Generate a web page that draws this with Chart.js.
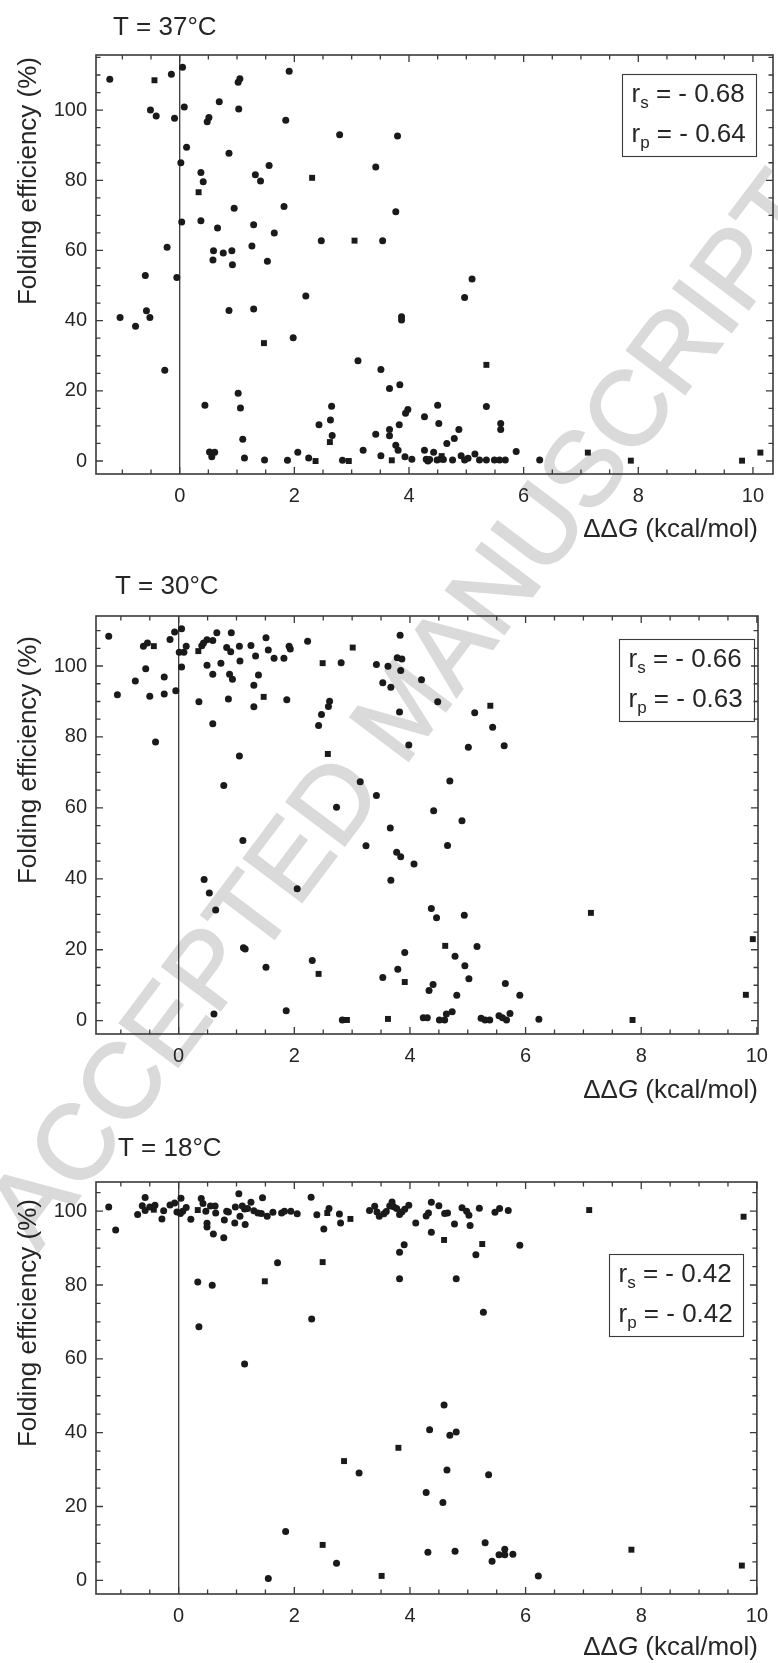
<!DOCTYPE html>
<html>
<head>
<meta charset="utf-8">
<title>Folding efficiency vs ΔΔG</title>
<script src="https://cdn.jsdelivr.net/npm/chart.js@4.4.1/dist/chart.umd.min.js"></script>
<style>
  html, body { margin: 0; padding: 0; background: #fff; }
  #page { position: relative; width: 778px; height: 1663px; overflow: hidden; }
  #stamp {
    position: absolute; left: 402px; top: 708px;
    transform: translate(-50%, -50%) rotate(-53deg);
    font: 106px 'Liberation Sans', Arial, sans-serif;
    color: #dadada; -webkit-text-stroke: 2px #dadada;
    white-space: nowrap; line-height: 1;
  }
  canvas { position: absolute; left: 0; }
</style>
</head>
<body>
<div id="page">
  <div id="stamp">ACCEPTED MANUSCRIPT</div>
  <canvas id="c37" width="778" height="556" style="top:0px"></canvas>
  <canvas id="c30" width="778" height="554" style="top:556px"></canvas>
  <canvas id="c18" width="778" height="553" style="top:1110px"></canvas>
</div>
<script>
// ---- data: [ΔΔG (kcal/mol), folding efficiency (%)] ----
const xTickValues = [0, 2, 4, 6, 8, 10];
const yTickValues = [0, 20, 40, 60, 80, 100];
const temperatures = [37, 30, 18];
const spearman = [-0.68, -0.66, -0.42];
const pearson = [-0.64, -0.63, -0.42];

const circles37 = [
  [-1.22,108.8],[-0.145,110.2],[0.05,112.2],[-0.51,100.0],[-0.41,98.3],[-0.09,97.7],[0.08,100.9],
  [0.12,89.4],[0.02,85.0],[0.035,68.1],[0.37,82.2],[0.41,79.6],[0.37,68.5],[0.48,96.7],[0.51,97.9],
  [0.69,102.4],[1.02,107.9],[1.05,108.9],[1.03,100.3],[0.86,87.7],[0.66,66.4],[0.95,72.0],[0.59,59.9],
  [0.58,57.3],[0.76,59.3],[0.91,59.9],[0.92,55.9],[1.26,61.3],[1.29,67.3],[1.32,81.6],[1.41,79.8],
  [1.56,84.2],[1.53,56.9],[1.65,65.0],[1.82,72.5],[1.85,97.1],[1.91,111.1],[2.47,62.8],[2.79,93.0],
  [3.42,83.8],[3.54,62.8],[3.77,71.0],[3.80,92.6],[-0.22,60.9],[-0.60,52.9],[-0.05,52.3],[5.10,51.9],
  [-1.04,40.9],[-0.77,38.4],[-0.58,42.8],[-0.52,40.9],[-0.26,25.9],[0.86,42.9],[1.29,43.3],[2.20,47.0],
  [1.98,35.1],[3.11,28.6],[3.51,26.1],[3.66,20.7],[3.84,21.7],[3.87,41.1],[3.87,40.2],[0.44,15.9],
  [1.02,19.3],[1.06,15.1],[1.10,6.2],[0.52,2.6],[0.61,2.5],[0.56,1.2],[1.13,0.85],[1.48,0.3],[1.88,0.2],
  [2.06,2.5],[2.25,0.85],[2.43,10.3],[2.63,11.7],[2.65,15.6],[2.66,7.3],[2.84,0.2],[3.20,3.1],[3.42,7.6],
  [3.51,1.5],[3.66,9.0],[3.66,7.2],[3.77,4.5],[3.81,3.1],[3.83,10.3],
  [3.93,1.2],[3.94,13.6],[3.98,14.7],[4.05,0.5],[4.27,12.6],[4.27,3.1],[4.30,0.5],[4.33,0.0],[4.36,0.4],
  [4.43,2.5],[4.50,15.9],[4.52,10.7],[4.49,0.3],[4.55,0.6],[4.60,0.4],[4.66,5.0],[4.76,0.3],[4.79,6.4],
  [4.87,9.0],[4.91,1.5],[4.97,0.3],[5.03,0.8],[4.97,46.6],[5.15,2.0],[5.23,0.3],[5.35,15.5],[5.35,0.3],
  [5.49,0.3],[5.58,0.3],[5.68,0.3],[5.60,10.7],[5.60,9.0],[5.87,2.7],[6.28,0.3]
];
const squares37 = [
  [-0.44,108.5],[0.33,76.6],[2.31,80.7],[3.05,62.8],[1.47,33.6],[2.37,0.0],[2.62,5.4],[2.95,0.0],
  [3.70,0.2],[4.57,1.4],[5.35,27.4],[7.12,2.4],[7.87,0.1],[9.81,0.1],[10.13,2.4]
];

const circles30 = [
  [-1.21,108.4],[-1.06,91.9],[-0.75,95.8],[-0.61,105.6],[-0.54,106.5],[-0.57,99.2],[-0.50,91.5],
  [-0.40,78.6],[-0.25,96.9],[-0.25,92.1],[-0.15,107.5],[-0.07,109.6],[-0.05,93.0],[0.05,110.5],
  [0.01,103.9],[0.09,103.9],[0.05,99.7],[0.13,105.6],[0.35,89.9],[0.40,105.7],[0.43,106.5],[0.49,107.4],
  [0.59,107.2],[0.66,109.4],[0.49,100.2],[0.59,97.7],[0.59,83.7],[0.73,100.8],[0.78,66.3],[0.83,105.2],
  [0.90,104.0],[0.86,90.7],[0.88,97.7],[0.93,96.3],[0.91,109.4],[1.05,105.6],[1.06,101.4],[1.05,74.6],
  [1.11,50.8],[1.25,105.8],[1.33,102.8],[1.30,94.6],[1.30,88.5],[1.38,97.5],[1.51,108.0],[1.55,104.5],
  [1.65,102.2],[1.82,102.2],[1.87,90.5],[1.91,105.6],[1.93,104.8],[2.23,107.0],[2.42,83.2],[2.47,86.3],
  [2.61,90.1],[2.59,88.6],[2.73,60.2],[2.81,100.9],[3.14,67.4],[3.24,49.3],[3.42,63.5],[3.42,100.4],
  [3.53,95.3],[3.67,94.0],[3.62,99.9],[3.66,54.3],[3.78,102.3],[3.83,108.7],[3.86,102.0],[3.84,98.7],
  [4.20,96.1],[3.82,87.0],[4.48,89.9],[5.12,86.8],[5.43,82.7],[5.01,77.1],[5.63,77.5],[3.98,77.7],
  [4.69,67.6],[4.41,59.2],[4.90,56.4],[4.65,49.4],[3.77,47.5],[3.84,46.2],[4.07,44.2],[3.67,39.6],
  [0.44,39.8],[0.53,36.0],[0.64,31.2],[2.05,37.2],[1.12,20.6],[1.15,20.2],[1.51,15.1],[2.31,17.0],
  [3.53,12.2],[3.79,14.5],[0.61,1.9],[1.86,2.8],[2.83,0.2],[4.37,31.6],[4.46,29.0],[4.94,29.7],
  [5.16,20.9],[3.91,19.2],[4.78,18.2],[4.95,15.5],[5.02,11.8],[4.40,10.2],[4.33,8.5],[5.65,10.5],
  [4.81,7.2],[5.90,7.2],[4.23,0.85],[4.30,0.85],[4.51,0.2],[4.60,0.2],[4.63,1.9],[4.73,2.5],[5.23,0.7],
  [5.30,0.2],[5.38,0.2],[5.54,1.4],[5.60,0.85],[5.67,0.2],[5.73,2.0],[6.23,0.4]
];
const squares30 = [
  [-0.43,105.6],[0.34,104.2],[1.47,91.3],[2.49,100.8],[2.58,75.2],[3.01,105.2],[5.39,88.8],[2.42,13.2],
  [2.91,0.2],[3.62,0.5],[7.13,30.4],[9.93,23.0],[4.61,21.1],[3.91,10.9],[9.81,7.3],[7.85,0.2]
];

const circles18 = [
  [-1.21,101.1],[-1.09,94.9],[-0.71,99.1],[-0.58,103.7],[-0.63,101.5],[-0.58,100.2],[-0.50,101.1],
  [-0.41,101.6],[-0.29,97.9],[-0.26,100.1],[-0.15,101.7],[-0.07,102.2],[-0.03,99.8],[0.04,103.5],
  [0.03,99.4],[0.07,100.0],[0.13,101.0],[0.21,97.8],[0.39,103.4],[0.42,102.1],[0.47,100.0],[0.49,96.7],
  [0.49,95.7],[0.55,101.4],[0.63,101.4],[0.60,93.8],[0.64,99.5],[0.78,92.8],[0.79,97.6],[0.83,100.0],
  [0.86,99.8],[0.97,96.8],[0.98,101.1],[1.04,104.7],[1.06,98.6],[1.10,101.4],[1.14,100.6],[1.19,100.7],
  [1.15,96.4],[1.25,102.4],[1.30,100.1],[1.37,99.5],[1.43,99.4],[1.45,103.6],[1.53,98.6],[1.63,99.7],
  [1.78,99.5],[1.83,100.0],[1.94,100.0],[2.05,99.3],[2.29,103.8],[2.39,99.0],[2.51,95.2],[2.60,100.7],
  [2.78,99.2],[2.80,96.8],[0.33,80.8],[0.58,79.9],[0.35,68.7],[1.14,58.6],[1.71,86.0],[2.30,70.8],
  [3.30,100.2],[3.39,101.3],[3.43,99.8],[3.47,98.6],[3.55,99.3],[3.59,99.9],[3.65,101.4],[3.69,102.5],
  [3.72,101.2],[3.77,100.7],[3.82,99.1],[3.86,99.8],[3.91,100.5],[3.98,101.6],[4.10,96.8],[4.28,98.7],
  [4.32,99.5],[4.37,102.4],[4.37,94.3],[4.50,101.5],[4.60,99.4],[4.65,99.5],[4.77,96.5],[4.90,100.9],
  [4.98,100.0],[5.02,98.9],[5.04,96.1],[5.20,100.8],[5.14,88.2],[5.47,99.7],[5.55,100.7],[5.70,100.2],
  [5.90,90.8],[3.82,88.9],[3.90,90.9],[3.82,81.7],[4.80,81.7],[5.27,72.6],[4.59,47.5],[3.12,29.1],
  [1.85,13.2],[2.73,4.6],[1.55,0.5],[4.34,40.8],[4.69,39.3],[4.80,40.2],[4.64,29.9],[5.36,28.6],
  [4.28,23.8],[4.57,21.1],[5.30,10.2],[4.31,7.6],[4.78,7.9],[5.42,5.2],[5.54,6.9],[5.64,8.4],[5.64,6.9],
  [5.78,7.1],[6.22,1.2]
];
const squares18 = [
  [-0.43,100.4],[0.33,100.3],[2.57,99.5],[2.97,97.9],[1.49,81.0],[2.49,86.2],[4.59,92.2],[5.25,91.1],
  [7.10,100.3],[9.77,98.5],[2.86,32.3],[2.49,9.6],[3.51,1.2],[3.80,35.9],[7.83,8.3],[9.74,4.0]
];

// ---- layout of the three stacked panels (canvas-relative pixels) ----
const FONT = "'Liberation Sans', Arial, Helvetica, sans-serif";
const INK = '#262626';
const FRAME = '#3a3a3a';
const DOT = '#1a1a1a';

const panels = [
  { id: 'c37', h: 556, area: { top: 55, bottom: 474, left: 96, right: 773 },
    x: [-1.46, 10.35], y: [-3.7, 115.7], titlePos: [113, 35], yTitleMid: 181, xTitleBase: 537,
    box: [622, 74, 134, 82], circles: circles37, squares: squares37 },
  { id: 'c30', h: 554, area: { top: 60, bottom: 478, left: 96, right: 764 },
    x: [-1.43, 10.02], y: [-3.75, 114.1], titlePos: [115, 38], yTitleMid: 204, xTitleBase: 542,
    box: [619, 83, 135, 82], circles: circles30, squares: squares30 },
  { id: 'c18', h: 553, area: { top: 72, bottom: 484, left: 96, right: 763 },
    x: [-1.43, 10.0], y: [-3.7, 107.9], titlePos: [118, 46], yTitleMid: 213, xTitleBase: 545,
    box: [609, 144, 134, 82], circles: circles18, squares: squares18 }
];

function fmtR(v) { return (v < 0 ? '- ' : '') + Math.abs(v).toFixed(2); }

// frame, inward ticks, zero line and text annotations
function decorFor(p, idx) {
  return {
    id: 'decor',
    beforeDatasetsDraw(chart) {
      const ctx = chart.ctx, a = chart.chartArea;
      const xs = chart.scales.x, ys = chart.scales.y;
      ctx.save();
      ctx.strokeStyle = FRAME;
      ctx.lineWidth = 1.3;
      // vertical reference line at ΔΔG = 0
      const x0 = xs.getPixelForValue(0);
      ctx.beginPath(); ctx.moveTo(x0, a.top); ctx.lineTo(x0, a.bottom); ctx.stroke();
      // x ticks every 0.5, long at labelled values
      for (let k = Math.ceil(xs.min / 0.5); k * 0.5 <= xs.max + 1e-9; k++) {
        const v = k * 0.5, px = xs.getPixelForValue(v);
        const len = xTickValues.includes(v) ? 7 : 4.5;
        ctx.beginPath();
        ctx.moveTo(px, a.bottom); ctx.lineTo(px, a.bottom - len);
        ctx.moveTo(px, a.top); ctx.lineTo(px, a.top + len);
        ctx.stroke();
      }
      // y ticks every 5, long at labelled values
      for (let k = Math.ceil(ys.min / 5); k * 5 <= ys.max + 1e-9; k++) {
        const v = k * 5, py = ys.getPixelForValue(v);
        const len = yTickValues.includes(v) ? 7 : 4.5;
        ctx.beginPath();
        ctx.moveTo(a.left, py); ctx.lineTo(a.left + len, py);
        ctx.moveTo(a.right, py); ctx.lineTo(a.right - len, py);
        ctx.stroke();
      }
      ctx.lineWidth = 1.6;
      ctx.strokeRect(a.left, a.top, a.right - a.left, a.bottom - a.top);
      ctx.restore();
    },
    afterDraw(chart) {
      const ctx = chart.ctx;
      ctx.save();
      ctx.fillStyle = INK;
      ctx.textBaseline = 'alphabetic';
      // panel title
      ctx.font = '26px ' + FONT;
      ctx.textAlign = 'left';
      ctx.fillText('T = ' + temperatures[idx] + '°C', p.titlePos[0], p.titlePos[1]);
      // y axis title
      ctx.save();
      ctx.translate(36, p.yTitleMid);
      ctx.rotate(-Math.PI / 2);
      ctx.textAlign = 'center';
      ctx.fillText('Folding efficiency (%)', 0, 0);
      ctx.restore();
      // x axis title: ΔΔG (kcal/mol), right aligned
      const parts = [['ΔΔ', ''], ['G', 'italic '], [' (kcal/mol)', '']];
      let total = 0;
      parts.forEach(([t, s]) => { ctx.font = s + '26px ' + FONT; total += ctx.measureText(t).width; });
      let cx = 758 - total;
      ctx.textAlign = 'left';
      parts.forEach(([t, s]) => {
        ctx.font = s + '26px ' + FONT;
        ctx.fillText(t, cx, p.xTitleBase);
        cx += ctx.measureText(t).width;
      });
      // correlation box
      const [bx, by, bw, bh] = p.box;
      ctx.strokeStyle = FRAME;
      ctx.lineWidth = 1.1;
      ctx.strokeRect(bx + 0.5, by + 0.5, bw, bh);
      const rows = [['s', spearman[idx], 27.5], ['p', pearson[idx], 67.5]];
      rows.forEach(([sub, val, dy]) => {
        let tx = bx + 9.5;
        const base = by + dy;
        ctx.font = '26px ' + FONT;
        ctx.fillText('r', tx, base);
        tx += ctx.measureText('r').width;
        ctx.font = '17px ' + FONT;
        ctx.fillText(sub, tx, base + 6);
        tx += ctx.measureText(sub).width;
        ctx.font = '26px ' + FONT;
        ctx.fillText(' = ' + fmtR(val), tx, base);
      });
      ctx.restore();
    }
  };
}

panels.forEach((p, idx) => {
  const canvas = document.getElementById(p.id);
  const tickFont = { family: FONT, size: 20 };
  new Chart(canvas, {
    type: 'scatter',
    data: {
      datasets: [
        { label: 'circles', data: p.circles.map(([x, y]) => ({ x, y })), pointStyle: 'circle',
          pointRadius: 3.5, pointBackgroundColor: DOT, pointBorderWidth: 0, showLine: false },
        { label: 'squares', data: p.squares.map(([x, y]) => ({ x, y })), pointStyle: 'rect',
          pointRadius: 4.2, pointBackgroundColor: DOT, pointBorderWidth: 0, showLine: false }
      ]
    },
    options: {
      responsive: false, animation: false, events: [],
      layout: { padding: { top: p.area.top, left: 0, right: 778 - p.area.right, bottom: 0 } },
      plugins: { legend: { display: false }, tooltip: { enabled: false }, title: { display: false } },
      scales: {
        x: {
          type: 'linear', position: 'bottom', min: p.x[0], max: p.x[1],
          grid: { display: false, drawTicks: false }, border: { display: false },
          afterBuildTicks: s => { s.ticks = xTickValues.map(v => ({ value: v })); },
          afterFit: s => { s.height = p.h - p.area.bottom; },
          ticks: { autoSkip: false, maxRotation: 0, padding: 10, font: tickFont, color: INK,
                   callback: v => String(v) }
        },
        y: {
          type: 'linear', position: 'left', min: p.y[0], max: p.y[1],
          grid: { display: false, drawTicks: false }, border: { display: false },
          afterBuildTicks: s => { s.ticks = yTickValues.map(v => ({ value: v })); },
          afterFit: s => { s.width = p.area.left; },
          ticks: { autoSkip: false, padding: 9, font: tickFont, color: INK, callback: v => String(v) }
        }
      }
    },
    plugins: [decorFor(p, idx)]
  });
});
</script>
</body>
</html>
